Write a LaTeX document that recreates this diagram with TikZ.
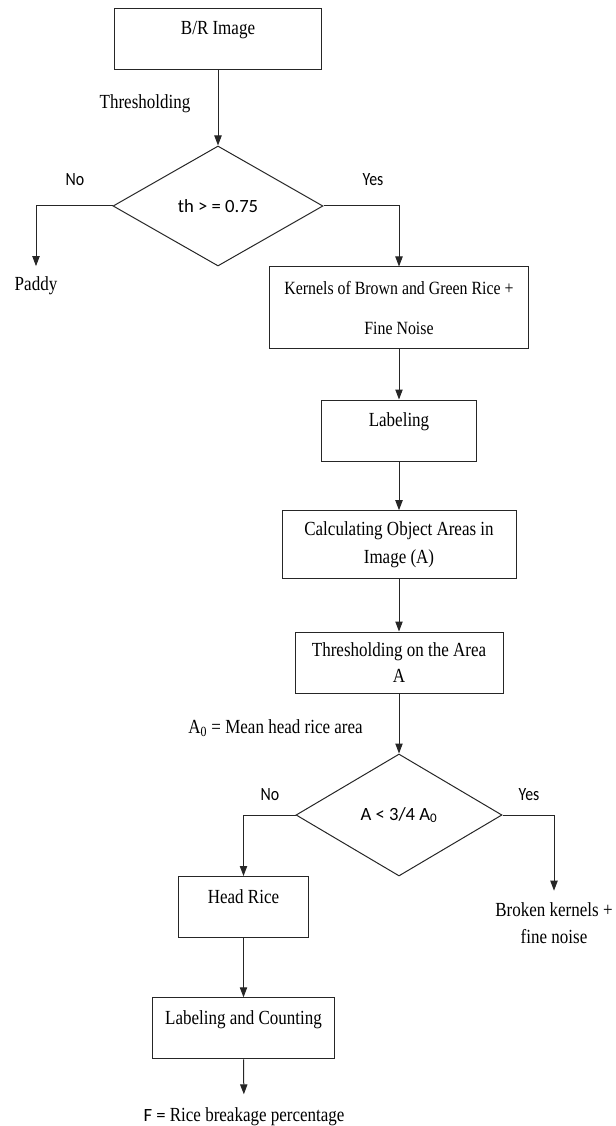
\documentclass[tikz,border=0pt]{standalone}
\usepackage{fontspec}
\newfontfamily\rmfnt[FakeStretch=0.85]{Liberation Serif}
\newfontfamily\sffnt{Carlito}
\newfontfamily\sfnarrow[FakeStretch=0.85]{Carlito}
\usetikzlibrary{arrows.meta,shapes.geometric}
\begin{document}
\begin{tikzpicture}[x=0.75pt,y=-0.75pt,
  line/.style={draw=black!85, line width=0.75pt},
  arr/.style={line, -{Triangle[length=7.5pt,width=5.5pt]}},
  box/.style={draw=black!85, line width=0.75pt, rectangle, inner sep=0pt, font=\rmfnt\fontsize{15}{18}\selectfont},
  onel/.style={box, text height=10pt, text depth=15.6pt},
  twol/.style={box, align=center},
  dec/.style={draw=black!85, line width=0.75pt, diamond, inner sep=0pt, font=\sffnt\fontsize{14}{16}\selectfont},
  lbl/.style={inner sep=0pt, font=\rmfnt\fontsize{15}{18}\selectfont},
  yn/.style={inner sep=0pt, font=\sfnarrow\fontsize{14}{16}\selectfont}
]
\useasboundingbox (0,0) rectangle (615,1126);

\node[onel, minimum width=155.25pt, minimum height=45.75pt] (br) at (218,38.7) {B/R Image};
\node[lbl] (thr1) at (145,104) {Thresholding};
\node[dec, minimum width=157.5pt, minimum height=90pt] (d1) at (218,206) {th > = 0.75};
\node[yn] (no1) at (75,180) {No};
\node[yn] (yes1) at (373,180) {Yes};
\node[lbl] (paddy) at (36,285.5) {Paddy};

\node[twol, font=\rmfnt\fontsize{14}{30.6}\selectfont, minimum width=194.25pt, minimum height=61.5pt] (ker) at (399,308)
  {Kernels of Brown and Green Rice +\\Fine Noise};
\node[onel, minimum width=116.7pt, minimum height=45.75pt] (lab) at (399,430.5) {Labeling};
\node[twol, font=\rmfnt\fontsize{15}{20.6}\selectfont, minimum width=175.5pt, minimum height=51pt] (calc) at (399,544.7)
  {Calculating Object Areas in\\Image (A)};
\node[twol, font=\rmfnt\fontsize{15}{19.9}\selectfont, minimum width=156pt, minimum height=45.75pt] (tha) at (399,662.5)
  {Thresholding on the Area\\A};
\node[lbl] (a0) at (275.5,728) {A\textsubscript{0} = Mean head rice area};

\node[dec, minimum width=154.5pt, minimum height=91.5pt] (d2) at (399,815) {A < 3/4 A\textsubscript{0}};
\node[yn] (no2) at (270,795) {No};
\node[yn] (yes2) at (529,795) {Yes};
\node[lbl, align=center, font=\rmfnt\fontsize{15}{20.25}\selectfont] (brk) at (554,923.5) {Broken kernels +\\fine noise};

\node[onel, minimum width=97.5pt, minimum height=45.75pt] (head) at (243.5,907) {Head Rice};
\node[onel, minimum width=136.5pt, minimum height=45.75pt] (lc) at (243.5,1028.3) {Labeling and Counting};
\node[lbl] (fres) at (244,1117) {{\sffnt\fontsize{14}{16}\selectfont F =} Rice breakage percentage};

\draw[arr] (br) -- (d1);
\draw[arr, shorten >=7.5pt] (d1.west) -| (paddy.north);
\draw[arr] (d1.east) -| (ker.north);
\draw[arr] (ker) -- (lab);
\draw[arr] (lab) -- (calc);
\draw[arr] (calc) -- (tha);
\draw[arr] (tha.south) -- (d2.north);
\draw[arr] (d2.west) -| (head.north);
\draw[arr, shorten >=9pt] (d2.east) -| (brk.north);
\draw[arr] (head) -- (lc);
\draw[arr, shorten >=10pt] (lc.south) -- (fres.north);
\end{tikzpicture}
\end{document}
